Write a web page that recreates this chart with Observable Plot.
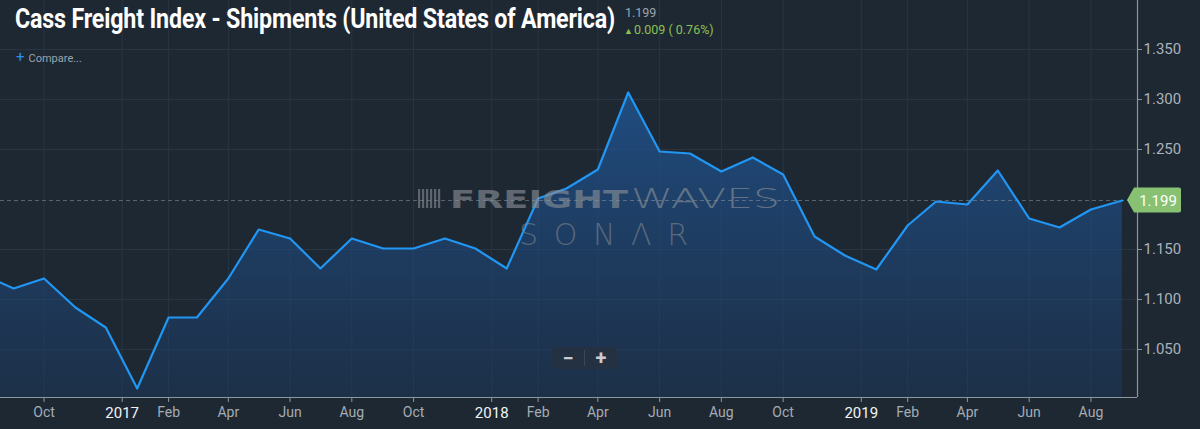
<!DOCTYPE html>
<html>
<head>
<meta charset="utf-8">
<script src="https://cdn.jsdelivr.net/npm/d3@7"></script>
<script src="https://cdn.jsdelivr.net/npm/@observablehq/plot@0.6"></script>
<style>
html,body{margin:0;padding:0;background:#1e2833;overflow:hidden}
#wrap{position:relative;width:1200px;height:429px;font-family:Roboto,"Liberation Sans",sans-serif}
#chart{position:absolute;left:0;top:0}
#title{position:absolute;left:15px;top:3px;color:#ffffff;font-weight:700;font-size:27px;white-space:nowrap;transform-origin:0 0;letter-spacing:-0.2px}
#last{position:absolute;left:625px;top:5px;color:#9ba4ad;font-size:12.5px;line-height:16px}
#chg{position:absolute;left:624px;top:22px;color:#8cc152;font-size:12.5px;line-height:16px}
#chg small{font-size:9px;margin-right:1px}
#compare{position:absolute;left:16px;top:48px;color:#9ba4ad;font-size:11px}
#compare b{color:#2d8ef0;font-size:15px;font-weight:400;margin-right:4px}
#zoom{position:absolute;left:552px;top:347px;width:65px;height:22px;background:#243142;color:#c9cdd2;font-size:20px;font-weight:700;display:flex;align-items:center}
#zoom span{flex:1;text-align:center;line-height:22px}
#zoom i{width:1px;height:16px;background:#3a4757}
</style>
</head>
<body>
<div id="wrap">
  <div id="chart"></div>
  <div id="title">Cass Freight Index - Shipments (United States of America)</div>
  <div id="last">1.199</div>
  <div id="chg"><small>&#9650;</small>0.009 ( 0.76%)</div>
  <div id="compare"><b>+</b>Compare...</div>
  <div id="zoom"><span>&minus;</span><i></i><span>+</span></div>
</div>
<script>
// ---- data ----
const months = ["2016-08","2016-09","2016-10","2016-11","2016-12",
  "2017-01","2017-02","2017-03","2017-04","2017-05","2017-06","2017-07","2017-08","2017-09","2017-10","2017-11","2017-12",
  "2018-01","2018-02","2018-03","2018-04","2018-05","2018-06","2018-07","2018-08","2018-09","2018-10","2018-11","2018-12",
  "2019-01","2019-02","2019-03","2019-04","2019-05","2019-06","2019-07","2019-08","2019-09"];
const values = [1.125,1.111,1.121,1.092,1.072,
  1.011,1.082,1.082,1.121,1.170,1.161,1.131,1.161,1.151,1.151,1.161,1.151,
  1.131,1.201,1.211,1.230,1.307,1.248,1.246,1.228,1.242,1.225,1.163,1.144,
  1.130,1.174,1.198,1.195,1.229,1.181,1.172,1.190,1.199];
const monthTicks = ["2016-10-01","2017-02-01","2017-04-01","2017-06-01","2017-08-01","2017-10-01",
  "2018-02-01","2018-04-01","2018-06-01","2018-08-01","2018-10-01",
  "2019-02-01","2019-04-01","2019-06-01","2019-08-01"];
const monthLabels = ["Oct","Feb","Apr","Jun","Aug","Oct","Feb","Apr","Jun","Aug","Oct","Feb","Apr","Jun","Aug"];
const yearTicks = ["2017-01-01","2018-01-01","2019-01-01"];
const yearLabels = ["2017","2018","2019"];
const yTicks = [1.05,1.10,1.15,1.20,1.25,1.30,1.35];
const yGrid = [1.05,1.10,1.15,1.25,1.30,1.35];
const xDomain = ["2016-08-19","2019-09-16"];
const yDomain = [1.002,1.399];
const lastValue = 1.199;

// ---- build ----
const pm = d3.utcParse("%Y-%m");
const pd = d3.utcParse("%Y-%m-%d");
const data = months.map((m,i)=>({date: pm(m), value: values[i]}));
const mt = monthTicks.map(pd);
const yt = yearTicks.map(pd);
const mLab = new Map(mt.map((d,i)=>[+d, monthLabels[i]]));
const yLab = new Map(yt.map((d,i)=>[+d, yearLabels[i]]));
const gridColor = "#2a3543";
const axisColor = "#8e979f";

const chart = Plot.plot({
  width: 1200, height: 429,
  marginLeft: 0, marginRight: 63, marginTop: 0, marginBottom: 32,
  style: {background: "transparent", fontFamily: "Roboto, sans-serif", overflow: "visible"},
  x: {type: "utc", domain: xDomain.map(pd)},
  y: {domain: yDomain},
  marks: [
    Plot.gridY(yGrid, {stroke: gridColor, strokeOpacity: 1}),
    Plot.gridX(mt, {stroke: gridColor, strokeOpacity: 1}),
    Plot.gridX(yt, {stroke: gridColor, strokeOpacity: 1, dx: -15}),
    Plot.areaY(data, {x: "date", y1: yDomain[0], y2: "value", fill: "url(#fwgrad)", clip: true}),
    Plot.ruleY([lastValue], {stroke: "#8a939c", strokeDasharray: "4,3", strokeOpacity: 0.55}),
    Plot.lineY(data, {x: "date", y: "value", stroke: "#2196f3", strokeWidth: 2.2, clip: true}),
    Plot.ruleY([yDomain[0]], {stroke: axisColor, strokeWidth: 1.2}),
    Plot.ruleX([pd(xDomain[1])], {stroke: axisColor, strokeWidth: 1.2}),
    Plot.axisX(mt, {tickFormat: d => mLab.get(+d), tickSize: 5, tickPadding: 5, fontSize: 14,
      fill: "#a4acb4", stroke: axisColor, label: null}),
    Plot.axisX(yt, {tickFormat: d => yLab.get(+d), tickSize: 5, tickPadding: 5, fontSize: 15, fontWeight: 400,
      fill: "#f2f4f6", stroke: axisColor, label: null, dx: -15}),
    Plot.axisY(yTicks.filter(v => v !== 1.20), {anchor: "right", tickSize: 4, tickPadding: 2,
      tickFormat: d3.format(".3f"), fontSize: 15, fill: "#aab2ba", stroke: axisColor, label: null})
  ]
});
document.getElementById("chart").appendChild(chart);

const svg = d3.select(chart);
const ys = chart.scale("y");
const xs = chart.scale("x");
const yBottom = ys.apply(yDomain[0]);

// gradient for area
const defs = svg.insert("defs", ":first-child");
const g = defs.append("linearGradient").attr("id", "fwgrad")
  .attr("gradientUnits", "userSpaceOnUse").attr("x1", 0).attr("x2", 0).attr("y1", 0).attr("y2", yBottom);
g.append("stop").attr("offset", "0%").attr("stop-color", "#2262ab").attr("stop-opacity", 0.85);
g.append("stop").attr("offset", "100%").attr("stop-color", "#1b3a63").attr("stop-opacity", 0.45);

// watermark (behind the area)
let areaTop = svg.select("path[fill='url(#fwgrad)']").node();
while (areaTop && areaTop.parentNode !== chart) areaTop = areaTop.parentNode;
const wm = svg.insert("g", () => areaTop)
  .attr("opacity", 0.62).attr("text-anchor", "start").attr("font-family", "'DejaVu Sans', sans-serif");
const wx = 418, wy = 208;
for (let i = 0; i < 6; i++) {
  wm.append("rect").attr("x", wx + i*4).attr("y", wy - 19).attr("width", 2.2).attr("height", 19).attr("fill", "#858b92");
}
wm.append("text").attr("x", 450).attr("y", wy).attr("font-size", 25).attr("font-weight", 900)
  .attr("textLength", 178).attr("lengthAdjust", "spacingAndGlyphs").attr("fill", "#8a9097").text("FREIGHT");
wm.append("text").attr("x", 631).attr("y", wy).attr("font-size", 27).attr("font-weight", 200)
  .attr("font-family", "'DejaVu Sans', 'Open Sans', sans-serif").style("font-stretch", "semi-expanded")
  .attr("textLength", 149).attr("lengthAdjust", "spacingAndGlyphs").attr("fill", "#8a9097").text("WAVES");
wm.append("text").attr("x", 519).attr("y", 245).attr("font-size", 30).attr("font-weight", 200)
  .attr("textLength", 169).attr("lengthAdjust", "spacing").attr("fill", "#7b848d").text("SONΛR");

// last value tag
const ty = ys.apply(lastValue);
const tx = xs.apply(pd(xDomain[1])) - 10;
svg.append("path")
  .attr("d", `M${tx},${ty} L${tx+7},${ty-12.5} L${tx+52},${ty-12.5} Q${tx+54},${ty-12.5} ${tx+54},${ty-10.5} L${tx+54},${ty+10.5} Q${tx+54},${ty+12.5} ${tx+52},${ty+12.5} L${tx+7},${ty+12.5} Z`)
  .attr("fill", "#87c171");
svg.append("text").attr("x", tx + 31).attr("y", ty + 5.5).attr("text-anchor", "middle")
  .attr("font-size", 15).attr("fill", "#ffffff").attr("font-family", "Roboto, sans-serif").text(lastValue.toFixed(3));

// fit title width to reference (condensed face)
const t = document.getElementById("title");
const w = t.getBoundingClientRect().width;
t.style.transform = `scaleX(${600 / w})`;
</script>
</body>
</html>
